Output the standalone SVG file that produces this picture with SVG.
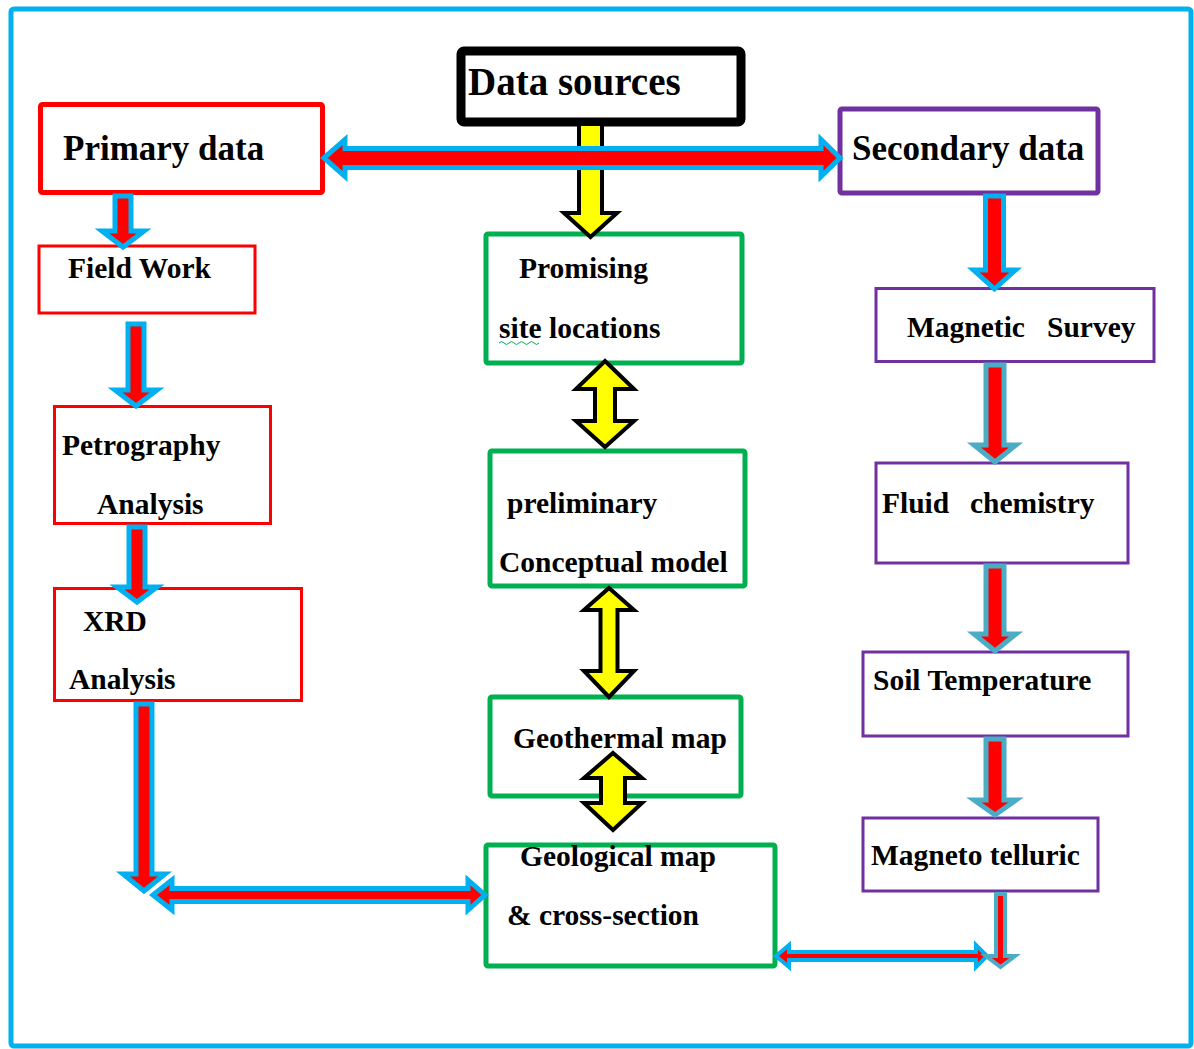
<svg xmlns="http://www.w3.org/2000/svg" width="1194" height="1049" viewBox="0 0 1194 1049">
<style>
.t{font-family:"Liberation Serif","Times New Roman",serif;font-weight:bold;fill:#000;}
.s28{font-size:29.5px;}
.s34{font-size:35px;}
.box{fill:#fff;}
.red{stroke:#ff0000;}
.grn{stroke:#00b050;}
.pur{stroke:#7030a0;}
.ab{fill:#ff0000;stroke:#00b0f0;stroke-linejoin:miter;}
.at{fill:#ff0000;stroke:#4bacc6;stroke-linejoin:miter;}
.ay{fill:#ffff00;stroke:#000;stroke-width:4;stroke-linejoin:miter;}
</style>
<rect x="11" y="9" width="1180" height="1037" rx="3" fill="#fff" stroke="#00b0f0" stroke-width="5"/>

<g id="data-sources">
<rect class="box" x="461" y="51" width="280" height="71" rx="3" stroke="#000" stroke-width="9"/>
<text class="t" x="468" y="95" font-size="39">Data sources</text>
</g>
<g id="primary-data">
<rect class="box red" x="40.5" y="104.5" width="282" height="88" rx="2" stroke-width="5"/>
<text class="t s34" x="63" y="160">Primary data</text>
</g>
<g id="secondary-data">
<rect class="box pur" x="840" y="109" width="258" height="84" rx="2" stroke-width="5"/>
<text class="t s34" x="852" y="160">Secondary data</text>
</g>
<g id="field-work">
<rect class="box red" x="39" y="246" width="216" height="67" stroke-width="3"/>
<text class="t s28" x="68" y="278">Field Work</text>
</g>
<g id="petrography">
<rect class="box red" x="54.5" y="406.5" width="216" height="117" stroke-width="3"/>
<text class="t s28" x="62" y="455">Petrography</text>
<text class="t s28" x="97" y="514">Analysis</text>
</g>
<g id="xrd">
<rect class="box red" x="54.5" y="588.5" width="247" height="112" stroke-width="3"/>
<text class="t s28" x="83" y="631">XRD</text>
<text class="t s28" x="69" y="689">Analysis</text>
</g>
<g id="promising">
<rect class="box grn" x="486" y="234" width="256" height="129" rx="2" stroke-width="5"/>
<text class="t s28" x="519" y="278">Promising</text>
<text class="t s28" x="499" y="338">site locations</text>
<path d="M499,343 q2.5,-3 5,0 t5,0 t5,0 t5,0 t5,0 t5,0 t5,0 t5,0" fill="none" stroke="#00b050" stroke-width="1"/>
</g>
<g id="preliminary">
<rect class="box grn" x="490" y="451" width="255" height="135" rx="2" stroke-width="5"/>
<text class="t s28" x="507" y="513">preliminary</text>
<text class="t s28" x="499" y="572">Conceptual model</text>
</g>
<g id="geothermal">
<rect class="box grn" x="490" y="697" width="251" height="99" rx="2" stroke-width="5"/>
<text class="t s28" x="513" y="748">Geothermal map</text>
</g>
<g id="geological">
<rect class="box grn" x="486" y="845" width="289" height="121" rx="2" stroke-width="5"/>
<text class="t s28" x="520" y="866">Geological map</text>
<text class="t s28" x="507" y="925">&amp; cross-section</text>
</g>
<g id="magnetic">
<rect class="box pur" x="876" y="288.5" width="278" height="73" stroke-width="3"/>
<text class="t s28" x="907" y="337">Magnetic</text>
<text class="t s28" x="1047" y="337">Survey</text>
</g>
<g id="fluid">
<rect class="box pur" x="876" y="463" width="252" height="100" stroke-width="3"/>
<text class="t s28" x="882" y="513">Fluid</text>
<text class="t s28" x="970" y="513">chemistry</text>
</g>
<g id="soil">
<rect class="box pur" x="863" y="652" width="265" height="84" stroke-width="3"/>
<text class="t s28" x="873" y="690">Soil Temperature</text>
</g>
<g id="magneto">
<rect class="box pur" x="863" y="818" width="235" height="73" stroke-width="3"/>
<text class="t s28" x="871" y="865">Magneto telluric</text>
</g>

<g id="connectors">
<path class="ay" d="M579,124 L602,124 L602,213 L617,213 L590.5,237 L564,213 L579,213 Z"/>
<path class="ab" stroke-width="5" d="M324,158 L345,139.5 L345,148.5 L821,148.5 L821,139.5 L840,158 L821,176.5 L821,167.5 L345,167.5 L345,176.5 Z"/>
<path class="ab" stroke-width="5" d="M115,196 L131,196 L131,231 L144,231 L123,247 L102,231 L115,231 Z"/>
<path class="ab" stroke-width="5" d="M128,324 L144,324 L144,390 L157,390 L136,406 L115,390 L128,390 Z"/>
<path class="ab" stroke-width="5" d="M129,527 L145,527 L145,587 L157,587 L137,602 L117,587 L129,587 Z"/>
<path class="ab" stroke-width="5" d="M136,704 L152,704 L152,874 L165,874 L144,891 L123,874 L136,874 Z"/>
<path class="ab" stroke-width="5" d="M153,895 L172,880 L172,888.5 L468,888.5 L468,880 L485,895 L468,910 L468,901.5 L172,901.5 L172,910 Z"/>
<path class="ay" d="M605,361 L634,389 L615,389 L615,421 L634,421 L605,447 L576,421 L595,421 L595,389 L576,389 Z"/>
<path class="ay" d="M609,588 L634,610 L617.5,610 L617.5,671 L634,671 L609,697 L584,671 L600.5,671 L600.5,610 L584,610 Z"/>
<path class="ay" d="M613,753 L642,778 L625,778 L625,803 L642,803 L613,830 L584,803 L601,803 L601,778 L584,778 Z"/>
<path class="ab" stroke-width="5" d="M985.5,196 L1003.5,196 L1003.5,270 L1015.5,270 L994.5,289 L973.5,270 L985.5,270 Z"/>
<path class="at" stroke-width="5" d="M986,365 L1004,365 L1004,445 L1016,445 L995,462 L974,445 L986,445 Z"/>
<path class="at" stroke-width="5" d="M986,566 L1004,566 L1004,634 L1016,634 L995,651 L974,634 L986,634 Z"/>
<path class="at" stroke-width="5" d="M986,739 L1004,739 L1004,800 L1016,800 L995,815 L974,800 L986,800 Z"/>
<path class="ab" stroke-width="4" d="M776,956 L789,945 L789,952 L976,952 L976,945 L987,956 L976,967 L976,960 L789,960 L789,967 Z"/>
<path class="at" stroke-width="4" d="M996,894 L1005,894 L1005,956 L1015,956 L1000.5,967 L986,956 L996,956 Z"/>
</g>
</svg>
